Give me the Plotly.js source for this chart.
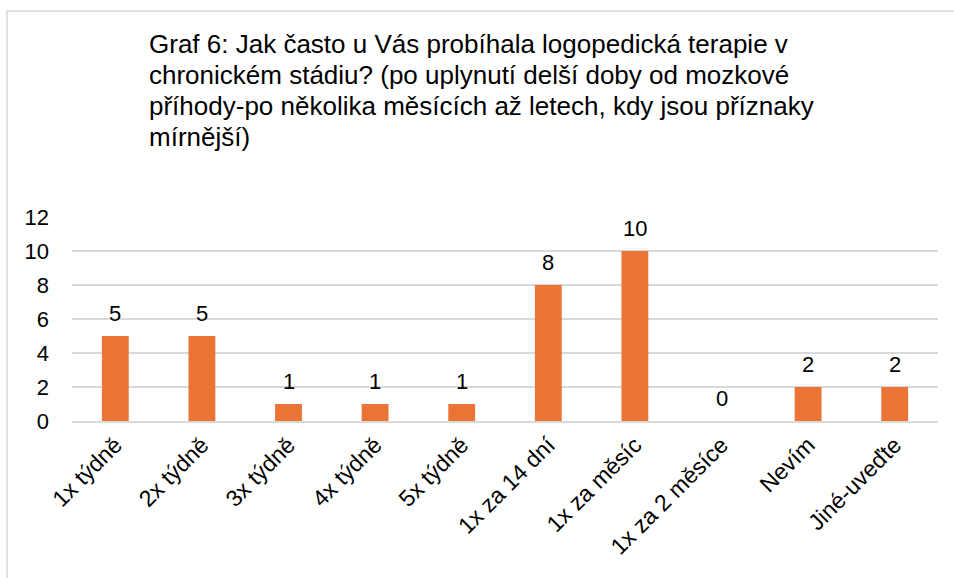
<!DOCTYPE html>
<html>
<head>
<meta charset="utf-8">
<script src="https://cdn.plot.ly/plotly-3.0.1.min.js"></script>
<style>html,body{margin:0;padding:0;background:#fff;}#chart{width:954px;height:578px;}</style>
</head>
<body>
<div id="chart"></div>
<script>
const categories = ["1x týdně","2x týdně","3x týdně","4x týdně","5x týdně","1x za 14 dní","1x za měsíc","1x za 2 měsíce","Nevím","Jiné-uveďte"];
const values = [5,5,1,1,1,8,10,0,2,2];
const yTicks = [0,2,4,6,8,10,12];
const titleLines = [
  "Graf 6: Jak často u Vás probíhala logopedická terapie v",
  "chronickém stádiu? (po uplynutí delší doby od mozkové",
  "příhody-po několika měsících až letech, kdy jsou příznaky",
  "mírnější)"
];

const font = "Liberation Sans, Arial, sans-serif";
const W = 954, H = 578;
const L = 72, R = 938, T = 217, B = 421;

const titleAnn = titleLines.map((t, i) => ({
  text: t, xref: "paper", yref: "paper",
  x: (147 - L) / (R - L), xanchor: "left",
  y: 1 + ((T - (44 + 31 * i)) / (B - T)), yanchor: "middle",
  showarrow: false, align: "left",
  font: {family: font, size: 26, color: "#000000"}
}));

const labelAnn = categories.map((c, i) => ({
  text: String(values[i]), x: c, y: values[i], xref: "x", yref: "y",
  yanchor: "bottom", yshift: 8, showarrow: false,
  font: {family: font, size: 22, color: "#000000"}
}));

const trace = {
  type: "bar", x: categories, y: values,
  marker: {color: "#EA7335", line: {width: 0}},
  hoverinfo: "none"
};

const layout = {
  width: W, height: H,
  margin: {l: L, r: W - R, t: T, b: H - B, pad: 0},
  paper_bgcolor: "#ffffff", plot_bgcolor: "#ffffff",
  showlegend: false,
  bargap: 0.69,
  font: {family: font, size: 22, color: "#000000"},
  xaxis: {
    type: "category", tickangle: -45, showgrid: false,
    showline: true, linecolor: "#D9D9D9", linewidth: 1.5,
    ticks: "", tickfont: {family: font, size: 23, color: "#000000"},
    zeroline: false, fixedrange: true
  },
  yaxis: {
    range: [0, 12], tickvals: yTicks, ticktext: yTicks.map(String),
    showgrid: true, gridcolor: "#D9D9D9", gridwidth: 1.5,
    zeroline: false, showline: false, ticks: "",
    ticklabelstandoff: 22,
    tickfont: {family: font, size: 22, color: "#000000"}, fixedrange: true
  },
  annotations: titleAnn.concat(labelAnn),
  shapes: [{
    type: "rect", xref: "paper", yref: "paper",
    x0: (7 - L) / (R - L), x1: (960 - L) / (R - L),
    y0: -(600 - B) / (B - T), y1: 1 + (T - 11) / (B - T),
    line: {color: "#D9D9D9", width: 1.5}, fillcolor: "rgba(0,0,0,0)", layer: "below"
  }]
};

Plotly.newPlot("chart", [trace], layout, {displayModeBar: false, staticPlot: true});
</script>
</body>
</html>
